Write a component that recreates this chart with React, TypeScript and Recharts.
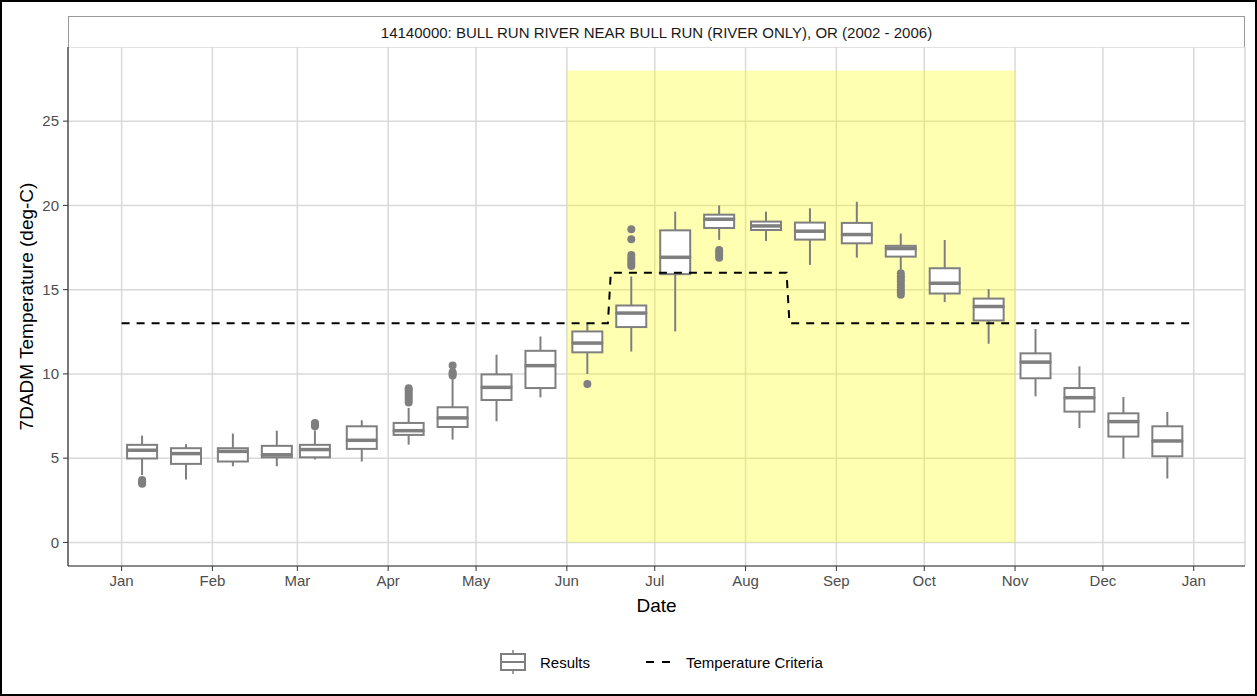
import React from 'react';
import {
  ComposedChart,
  Bar,
  Scatter,
  Line,
  XAxis,
  YAxis,
  CartesianGrid,
  ReferenceArea,
} from 'recharts';

const FONT = '"Liberation Sans", Arial, Helvetica, sans-serif';
const BOX = '#7F7F7F';

// Day of (leap) year for box centers (half-month bins)
const boxDays = [7, 22, 38, 53, 66, 82, 98, 113, 128, 143, 159, 174, 189, 204, 220, 235, 251, 266, 281, 296, 312, 327, 342, 357];
const whiskerLow = [4.0, 3.73, 4.52, 4.52, 4.92, 4.8, 5.8, 6.1, 7.19, 8.61, 10.0, 11.33, 12.52, 17.95, 17.89, 16.47, 16.9, 16.2, 14.26, 11.79, 8.67, 6.79, 4.98, 3.79];
const q1 = [4.98, 4.66, 4.8, 5.05, 5.05, 5.55, 6.38, 6.85, 8.45, 9.16, 11.28, 12.78, 15.92, 18.66, 18.54, 17.97, 17.75, 16.96, 14.77, 13.17, 9.74, 7.76, 6.28, 5.11];
const median = [5.47, 5.27, 5.4, 5.2, 5.51, 6.06, 6.63, 7.39, 9.2, 10.49, 11.83, 13.61, 16.92, 19.18, 18.78, 18.47, 18.27, 17.44, 15.38, 14.0, 10.7, 8.59, 7.17, 6.02];
const q3 = [5.79, 5.59, 5.59, 5.73, 5.79, 6.89, 7.09, 8.02, 9.97, 11.37, 12.52, 14.06, 18.52, 19.45, 19.04, 18.98, 18.96, 17.6, 16.27, 14.47, 11.22, 9.16, 7.66, 6.89];
const whiskerHigh = [6.34, 5.83, 6.46, 6.63, 6.65, 7.25, 7.98, 9.7, 11.14, 12.22, 13.05, 15.78, 19.63, 20.0, 19.63, 19.83, 20.22, 18.33, 17.95, 15.03, 12.66, 10.45, 8.63, 7.74];

const outliers = [
  { x: 7, y: 3.48 }, { x: 7, y: 3.55 }, { x: 7, y: 3.62 }, { x: 7, y: 3.7 },
  { x: 66, y: 6.9 }, { x: 66, y: 7.0 }, { x: 66, y: 7.08 },
  { x: 98, y: 8.3 }, { x: 98, y: 8.45 }, { x: 98, y: 8.6 }, { x: 98, y: 8.75 }, { x: 98, y: 8.9 }, { x: 98, y: 9.05 }, { x: 98, y: 9.15 },
  { x: 113, y: 9.9 }, { x: 113, y: 10.0 }, { x: 113, y: 10.1 }, { x: 113, y: 10.5 },
  { x: 159, y: 9.4 },
  { x: 174, y: 16.4 }, { x: 174, y: 16.55 }, { x: 174, y: 16.7 }, { x: 174, y: 16.85 }, { x: 174, y: 17.05 }, { x: 174, y: 17.99 }, { x: 174, y: 18.58 },
  { x: 204, y: 16.9 }, { x: 204, y: 17.05 }, { x: 204, y: 17.2 }, { x: 204, y: 17.35 },
  { x: 266, y: 14.7 }, { x: 266, y: 14.85 }, { x: 266, y: 15.0 }, { x: 266, y: 15.15 }, { x: 266, y: 15.3 }, { x: 266, y: 15.5 }, { x: 266, y: 15.65 }, { x: 266, y: 15.8 }, { x: 266, y: 15.97 },
];

const criteriaDays = [0, 166, 167, 227, 228, 365];
const criteriaValues = [13, 13, 16, 16, 13, 13];

const monthTickDays = [0, 31, 60, 91, 121, 152, 182, 213, 244, 274, 305, 335, 366];
const monthTickLabels = ['Jan', 'Feb', 'Mar', 'Apr', 'May', 'Jun', 'Jul', 'Aug', 'Sep', 'Oct', 'Nov', 'Dec', 'Jan'];
const yTicks = [0, 5, 10, 15, 20, 25];

const seasonStart = 152; // Jun 1
const seasonEnd = 305; // Nov 1
const seasonTop = 28;

const X_DOMAIN: [number, number] = [-18.3, 383.5];
const Y_DOMAIN: [number, number] = [-1.4, 29.4];

const chartData = boxDays.map((d, i) => ({
  x: d,
  base: whiskerLow[i],
  lowW: q1[i] - whiskerLow[i],
  boxLow: median[i] - q1[i],
  boxHigh: q3[i] - median[i],
  highW: whiskerHigh[i] - q3[i],
}));

const criteriaData = criteriaDays.map((d, i) => ({ x: d, y: criteriaValues[i] }));

const EmptyShape = () => <g />;
const WhiskerShape = (p: any) => {
  const cx = p.x + p.width / 2;
  return <line x1={cx} x2={cx} y1={p.y} y2={p.y + p.height} stroke={BOX} strokeWidth={2} />;
};
const BoxLowShape = (p: any) => (
  <rect x={p.x} y={p.y} width={p.width} height={p.height} fill="#fff" stroke={BOX} strokeWidth={2} />
);
const BoxHighShape = (p: any) => (
  <g>
    <rect x={p.x} y={p.y} width={p.width} height={p.height} fill="#fff" stroke={BOX} strokeWidth={2} />
    <line x1={p.x} x2={p.x + p.width} y1={p.y + p.height} y2={p.y + p.height} stroke={BOX} strokeWidth={3.5} />
  </g>
);
const OutlierShape = (p: any) => <circle cx={p.cx} cy={p.cy} r={4} fill={BOX} />;

const tickStyle = { fontSize: 15, fill: '#4D4D4D', fontFamily: FONT };

export default function App() {
  return (
    <div style={{ position: 'absolute', left: 0, top: 0, width: 1257, height: 696, background: '#fff', fontFamily: FONT }}>
      <ComposedChart
        width={1257}
        height={696}
        data={chartData}
        margin={{ top: 47, right: 12, bottom: 80, left: 8 }}
      >
        <CartesianGrid stroke="#D9D9D9" strokeWidth={1.5} />
        <ReferenceArea
          x1={seasonStart}
          x2={seasonEnd}
          y1={0}
          y2={seasonTop}
          fill="#FFFF00"
          fillOpacity={0.3}
          stroke="none"
          ifOverflow="visible"
        />
        <XAxis
          dataKey="x"
          type="number"
          domain={X_DOMAIN}
          allowDataOverflow
          ticks={monthTickDays}
          tickFormatter={(v: number) => monthTickLabels[monthTickDays.indexOf(v)]}
          tick={tickStyle}
          tickSize={5}
          tickMargin={4}
          tickLine={{ stroke: '#333' }}
          axisLine={{ stroke: '#333', strokeWidth: 1.2 }}
          height={50}
          interval={0}
          label={{ value: 'Date', position: 'insideBottom', offset: 4, style: { fontSize: 19, fill: '#000', fontFamily: FONT } }}
        />
        <XAxis
          xAxisId="box"
          dataKey="x"
          type="number"
          domain={X_DOMAIN}
          allowDataOverflow
          hide
        />
        <XAxis
          xAxisId="top"
          orientation="top"
          type="number"
          domain={X_DOMAIN}
          allowDataOverflow
          height={0}
          tick={false}
          tickLine={false}
          axisLine={{ stroke: '#222', strokeWidth: 1.5 }}
        />
        <YAxis
          type="number"
          domain={Y_DOMAIN}
          allowDataOverflow
          ticks={yTicks}
          tick={tickStyle}
          tickSize={5}
          tickMargin={4}
          tickLine={{ stroke: '#333' }}
          axisLine={{ stroke: '#333', strokeWidth: 1.2 }}
          width={60}
          interval={0}
          label={{ value: '7DADM Temperature (deg-C)', angle: -90, position: 'insideLeft', offset: 18, style: { textAnchor: 'middle', fontSize: 19, fill: '#000', fontFamily: FONT } }}
        />
        <YAxis
          yAxisId="right"
          orientation="right"
          type="number"
          domain={Y_DOMAIN}
          allowDataOverflow
          width={0}
          tick={false}
          tickLine={false}
          axisLine={{ stroke: '#333', strokeWidth: 1.2 }}
        />
        <Bar xAxisId="box" dataKey="base" stackId="b" barSize={30} shape={<EmptyShape />} isAnimationActive={false} />
        <Bar xAxisId="box" dataKey="lowW" stackId="b" barSize={30} shape={<WhiskerShape />} isAnimationActive={false} />
        <Bar xAxisId="box" dataKey="boxLow" stackId="b" barSize={30} shape={<BoxLowShape />} isAnimationActive={false} />
        <Bar xAxisId="box" dataKey="boxHigh" stackId="b" barSize={30} shape={<BoxHighShape />} isAnimationActive={false} />
        <Bar xAxisId="box" dataKey="highW" stackId="b" barSize={30} shape={<WhiskerShape />} isAnimationActive={false} />
        <Scatter data={outliers} dataKey="y" shape={<OutlierShape />} isAnimationActive={false} />
        <Line
          data={criteriaData}
          dataKey="y"
          type="linear"
          stroke="#000"
          strokeWidth={2}
          strokeDasharray="8 7"
          dot={false}
          activeDot={false}
          isAnimationActive={false}
        />
      </ComposedChart>

      {/* Facet strip title */}
      <div
        style={{
          position: 'absolute',
          left: 68,
          top: 16,
          width: 1177,
          height: 31,
          boxSizing: 'border-box',
          borderTop: '1px solid #9A9A9A',
          borderLeft: '1px solid #9A9A9A',
          borderRight: '1px solid #9A9A9A',
          background: '#fff',
          display: 'flex',
          alignItems: 'center',
          justifyContent: 'center',
          fontSize: 15,
          color: '#1A1A1A',
        }}
      >
        14140000: BULL RUN RIVER NEAR BULL RUN (RIVER ONLY), OR (2002 - 2006)
      </div>

      {/* Legend */}
      <div
        style={{
          position: 'absolute',
          left: 498,
          top: 650,
          height: 24,
          display: 'flex',
          alignItems: 'center',
          fontSize: 15,
          color: '#000',
        }}
      >
        <svg width={30} height={24} style={{ display: 'block' }}>
          <line x1={15} x2={15} y1={0} y2={4} stroke={BOX} strokeWidth={1.5} />
          <line x1={15} x2={15} y1={20} y2={24} stroke={BOX} strokeWidth={1.5} />
          <rect x={3} y={4} width={24} height={16} fill="#fff" stroke={BOX} strokeWidth={2} />
          <line x1={3} x2={27} y1={12} y2={12} stroke={BOX} strokeWidth={2} />
        </svg>
        <span style={{ marginLeft: 12 }}>Results</span>
        <svg width={30} height={24} style={{ display: 'block', marginLeft: 54 }}>
          <line x1={2} x2={28} y1={12} y2={12} stroke="#000" strokeWidth={2} strokeDasharray="8 8" />
        </svg>
        <span style={{ marginLeft: 12 }}>Temperature Criteria</span>
      </div>

      {/* Outer frame */}
      <div
        style={{
          position: 'absolute',
          left: 0,
          top: 0,
          width: 1257,
          height: 696,
          boxSizing: 'border-box',
          border: '2px solid #000',
          pointerEvents: 'none',
        }}
      />
    </div>
  );
}
